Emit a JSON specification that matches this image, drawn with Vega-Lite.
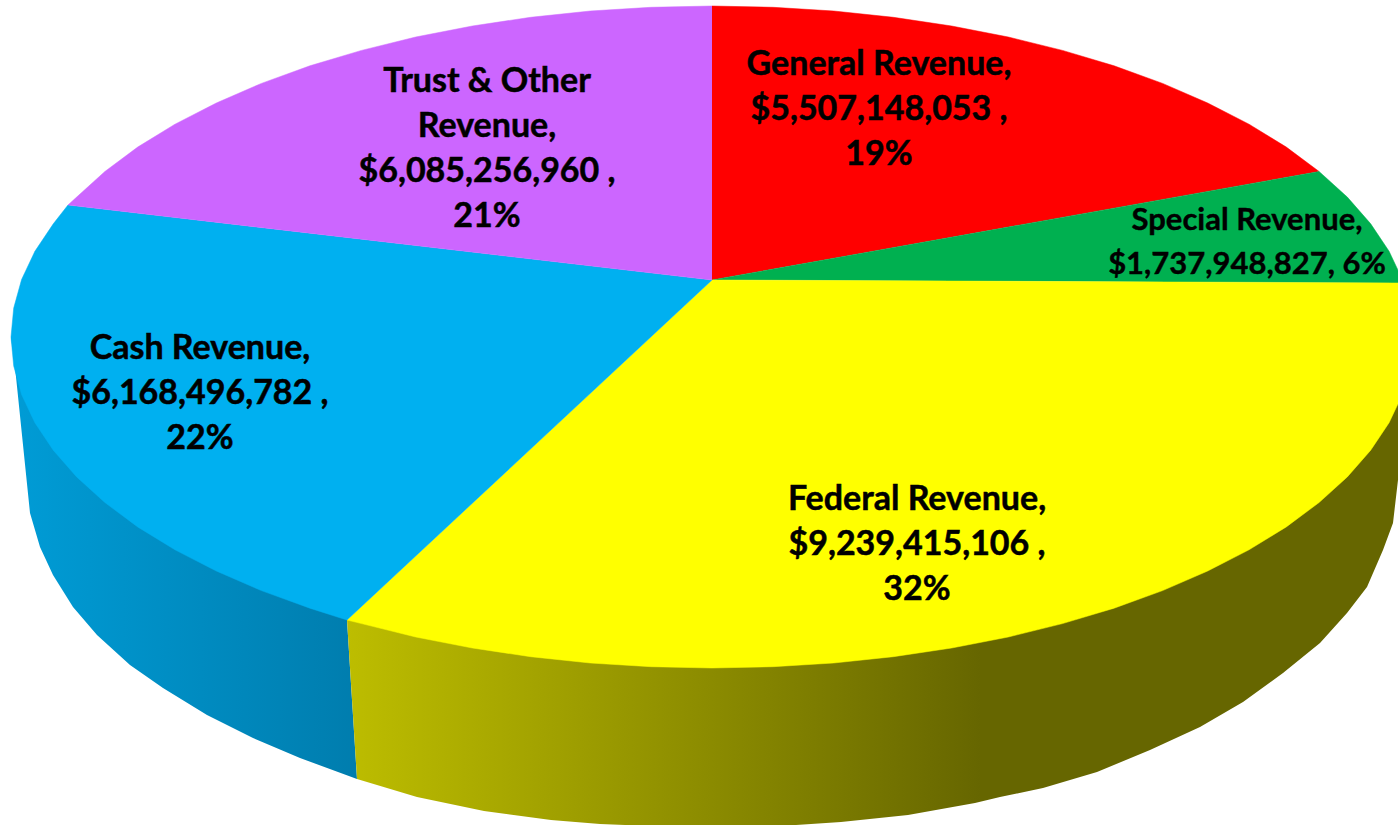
{
"$schema":"https://vega.github.io/schema/vega-lite/v6.json",
"width":1398,"height":825,"padding":0,"autosize":{"type":"none"},
"background":"white",
"config":{"view":{"stroke":null}},
"datasets":{
"sideBlue":[
{"i":0,"x":11,"y":337},{"i":1,"x":15,"y":367},{"i":2,"x":30,"y":513},{"i":3,"x":40,"y":547},{"i":4,"x":53,"y":575},{"i":5,"x":73,"y":607},{"i":6,"x":97,"y":635},{"i":7,"x":130,"y":665},{"i":8,"x":163,"y":688},{"i":9,"x":207,"y":715},{"i":10,"x":253,"y":738},{"i":11,"x":300,"y":758},{"i":12,"x":357,"y":779},{"i":13,"x":347,"y":620},{"i":14,"x":200,"y":400}],
"sideYellow":[
{"i":0,"x":347,"y":620},{"i":1,"x":357,"y":779},{"i":2,"x":417,"y":797},{"i":3,"x":484,"y":811},{"i":4,"x":551,"y":820},{"i":5,"x":600,"y":824},{"i":6,"x":650,"y":826},{"i":7,"x":700,"y":827},{"i":8,"x":750,"y":826},{"i":9,"x":796,"y":825},{"i":10,"x":841,"y":822},{"i":11,"x":908,"y":815},{"i":12,"x":975,"y":803},{"i":13,"x":1000,"y":797},{"i":14,"x":1043,"y":788},{"i":15,"x":1097,"y":772},{"i":16,"x":1150,"y":750},{"i":17,"x":1200,"y":727},{"i":18,"x":1243,"y":702},{"i":19,"x":1283,"y":673},{"i":20,"x":1320,"y":643},{"i":21,"x":1347,"y":613},{"i":22,"x":1367,"y":587},{"i":23,"x":1383,"y":550},{"i":24,"x":1393,"y":523},{"i":25,"x":1398,"y":480},{"i":26,"x":1404,"y":400},{"i":27,"x":700,"y":500}],
"top":[
{"s":"General","i":0,"x":712,"y":280},{"s":"General","i":1,"x":712,"y":6},{"s":"General","i":2,"x":773.1,"y":7.3},{"s":"General","i":3,"x":833.7,"y":11},{"s":"General","i":4,"x":893.4,"y":17.3},{"s":"General","i":5,"x":951.7,"y":26},{"s":"General","i":6,"x":1008.3,"y":37},{"s":"General","i":7,"x":1062.5,"y":50.4},{"s":"General","i":8,"x":1114.1,"y":65.8},{"s":"General","i":9,"x":1162.6,"y":83.4},{"s":"General","i":10,"x":1207.7,"y":103},{"s":"General","i":11,"x":1249,"y":124.2},{"s":"General","i":12,"x":1286.3,"y":147.1},{"s":"General","i":13,"x":1319.1,"y":171.5},
{"s":"Special","i":0,"x":712,"y":280},{"s":"Special","i":1,"x":1319.1,"y":171.5},{"s":"Special","i":2,"x":1347.3,"y":197.1},{"s":"Special","i":3,"x":1370.7,"y":223.8},{"s":"Special","i":4,"x":1389.1,"y":251.3},{"s":"Special","i":5,"x":1402.4,"y":279.5},{"s":"Special","i":6,"x":1404,"y":283},
{"s":"Federal","i":0,"x":712,"y":280},{"s":"Federal","i":1,"x":1404,"y":283},{"s":"Federal","i":2,"x":1410.3,"y":308.1},{"s":"Federal","i":3,"x":1413,"y":337},{"s":"Federal","i":4,"x":1410.3,"y":365.9},{"s":"Federal","i":5,"x":1402.4,"y":394.5},{"s":"Federal","i":6,"x":1389.1,"y":422.7},{"s":"Federal","i":7,"x":1370.7,"y":450.2},{"s":"Federal","i":8,"x":1347.3,"y":476.9},{"s":"Federal","i":9,"x":1319.1,"y":502.5},{"s":"Federal","i":10,"x":1286.3,"y":526.9},{"s":"Federal","i":11,"x":1249,"y":549.8},{"s":"Federal","i":12,"x":1207.7,"y":571},{"s":"Federal","i":13,"x":1162.6,"y":590.6},{"s":"Federal","i":14,"x":1114.1,"y":608.2},{"s":"Federal","i":15,"x":1062.5,"y":623.6},{"s":"Federal","i":16,"x":1008.3,"y":637},{"s":"Federal","i":17,"x":951.7,"y":648},{"s":"Federal","i":18,"x":893.4,"y":656.7},{"s":"Federal","i":19,"x":833.7,"y":663},{"s":"Federal","i":20,"x":773.1,"y":666.7},{"s":"Federal","i":21,"x":712,"y":668},{"s":"Federal","i":22,"x":650.9,"y":666.7},{"s":"Federal","i":23,"x":590.3,"y":663},{"s":"Federal","i":24,"x":530.6,"y":656.7},{"s":"Federal","i":25,"x":472.3,"y":648},{"s":"Federal","i":26,"x":415.7,"y":637},{"s":"Federal","i":27,"x":361.5,"y":623.6},{"s":"Federal","i":28,"x":347,"y":620},
{"s":"Cash","i":0,"x":712,"y":280},{"s":"Cash","i":1,"x":347,"y":620},{"s":"Cash","i":2,"x":309.9,"y":608.2},{"s":"Cash","i":3,"x":261.4,"y":590.6},{"s":"Cash","i":4,"x":216.3,"y":571},{"s":"Cash","i":5,"x":175,"y":549.8},{"s":"Cash","i":6,"x":137.7,"y":526.9},{"s":"Cash","i":7,"x":104.9,"y":502.5},{"s":"Cash","i":8,"x":76.7,"y":476.9},{"s":"Cash","i":9,"x":53.3,"y":450.2},{"s":"Cash","i":10,"x":34.9,"y":422.7},{"s":"Cash","i":11,"x":21.6,"y":394.5},{"s":"Cash","i":12,"x":13.7,"y":365.9},{"s":"Cash","i":13,"x":11,"y":337},{"s":"Cash","i":14,"x":13.7,"y":308.1},{"s":"Cash","i":15,"x":21.6,"y":279.5},{"s":"Cash","i":16,"x":34.9,"y":251.3},{"s":"Cash","i":17,"x":53.3,"y":223.8},{"s":"Cash","i":18,"x":68,"y":205},
{"s":"Trust","i":0,"x":712,"y":280},{"s":"Trust","i":1,"x":68,"y":205},{"s":"Trust","i":2,"x":76.7,"y":197.1},{"s":"Trust","i":3,"x":104.9,"y":171.5},{"s":"Trust","i":4,"x":137.7,"y":147.1},{"s":"Trust","i":5,"x":175,"y":124.2},{"s":"Trust","i":6,"x":216.3,"y":103},{"s":"Trust","i":7,"x":261.4,"y":83.4},{"s":"Trust","i":8,"x":309.9,"y":65.8},{"s":"Trust","i":9,"x":361.5,"y":50.4},{"s":"Trust","i":10,"x":415.7,"y":37},{"s":"Trust","i":11,"x":472.3,"y":26},{"s":"Trust","i":12,"x":530.6,"y":17.3},{"s":"Trust","i":13,"x":590.3,"y":11},{"s":"Trust","i":14,"x":650.9,"y":7.3},{"s":"Trust","i":15,"x":712,"y":6}],
"labels":[
{"s":"General","value":5507148053,"pct":19,"label":"General Revenue,\n$5,507,148,053 ,\n19%","x":879,"y":64.5},
{"s":"Trust","value":6085256960,"pct":21,"label":"Trust & Other\nRevenue,\n$6,085,256,960 ,\n21%","x":487,"y":81.5},
{"s":"Cash","value":6168496782,"pct":22,"label":"Cash Revenue,\n$6,168,496,782 ,\n22%","x":200,"y":348.5},
{"s":"Federal","value":9239415106,"pct":32,"label":"Federal Revenue,\n$9,239,415,106 ,\n32%","x":917,"y":499.5},
{"s":"Special","value":1737948827,"pct":6,"label":"Special Revenue,\n$1,737,948,827, 6%","x":1247,"y":221}]
},
"encoding":{
"x":{"field":"x","type":"quantitative","scale":{"domain":[0,1398]},"axis":null},
"y":{"field":"y","type":"quantitative","scale":{"domain":[825,0]},"axis":null}
},
"layer":[
{"data":{"name":"sideBlue"},
"mark":{"type":"line","clip":true,"strokeWidth":0,"fill":{"gradient":"linear","x1":0,"y1":0,"x2":1,"y2":0,"stops":[{"offset":0,"color":"#009CD6"},{"offset":1,"color":"#007DAE"}]}},
"encoding":{"order":{"field":"i","type":"quantitative"}}},
{"data":{"name":"sideYellow"},
"mark":{"type":"line","clip":true,"strokeWidth":0,"fill":{"gradient":"linear","x1":0,"y1":0,"x2":1,"y2":0,"stops":[{"offset":0,"color":"#BDBD00"},{"offset":0.6,"color":"#666600"},{"offset":1,"color":"#666600"}]}},
"encoding":{"order":{"field":"i","type":"quantitative"}}},
{"data":{"name":"top"},
"mark":{"type":"line","clip":true,"strokeWidth":0.5},
"encoding":{
"order":{"field":"i","type":"quantitative"},
"fill":{"field":"s","type":"nominal","legend":null,"scale":{"domain":["General","Special","Federal","Cash","Trust"],"range":["#FF0000","#00B050","#FFFF00","#00B0F0","#CC66FF"]}},
"stroke":{"field":"s","type":"nominal","legend":null,"scale":{"domain":["General","Special","Federal","Cash","Trust"],"range":["#FF0000","#00B050","#FFFF00","#00B0F0","#CC66FF"]}}}},
{"data":{"name":"labels"},"transform":[{"filter":"datum.s !== 'Special'"}],
"mark":{"type":"text","font":"Lato","fontWeight":"bold","fontSize":34,"lineBreak":"\n","lineHeight":45,"align":"center","baseline":"middle","color":"#000000","stroke":"#000000","strokeWidth":0.5},
"encoding":{"text":{"field":"label"}}},
{"data":{"name":"labels"},"transform":[{"filter":"datum.s === 'Special'"}],
"mark":{"type":"text","font":"Lato","fontWeight":"bold","fontSize":31,"lineBreak":"\n","lineHeight":44,"align":"center","baseline":"middle","color":"#000000","stroke":"#000000","strokeWidth":0.4},
"encoding":{"text":{"field":"label"}}}
]
}
